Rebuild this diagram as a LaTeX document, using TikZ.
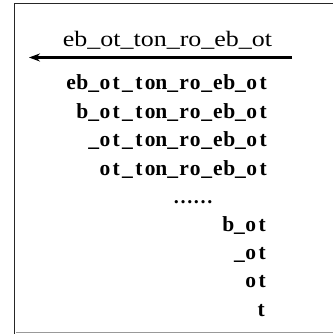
\documentclass[tikz,border=0pt]{standalone}
\usepackage{fontspec}
\setmainfont{Liberation Serif}
\usetikzlibrary{arrows.meta}
\makeatletter
\def\monoline#1{\monoaux#1\relax}
\def\monoaux#1{\ifx#1\relax\else\makebox[11.3pt]{#1}\expandafter\monoaux\fi}
\makeatother
\tikzset{
  frameline/.style={draw=black!85, line width=1.8pt},
  frameshade/.style={draw=black!40, line width=1.2pt},
  header/.style={anchor=base, inner sep=0pt, font=\fontsize{22}{22}\selectfont},
  row/.style={anchor=base east, inner sep=0pt, font=\bfseries\fontsize{21.5}{21.5}\selectfont},
  dots/.style={anchor=base, inner sep=0pt, font=\bfseries\fontsize{20}{20}\selectfont},
  bigarrow/.style={line width=2.4pt, -{Stealth[length=11pt,width=8pt]}}
}
\begin{document}
\begin{tikzpicture}[x=1pt,y=-1pt]
\useasboundingbox (0,0) rectangle (333,334);
\fill[white] (0,0) rectangle (333,334);
% frame
\draw[frameline] (14.5,334) -- (14.5,3.5) -- (333,3.5);
\draw[frameshade] (16,332.5) -- (333,332.5);
% header and arrow
\node[header] (head) at (167.5,46.5) {\scalebox{1.18}[1]{eb\_ot\_ton\_ro\_eb\_ot}};
\coordinate (aR) at (292,57.5);
\coordinate (aL) at (29,57.5);
\draw[bigarrow] (aR) -- (aL);
% suffix rows
\node[row] (r1) at (269,90)    {\monoline{eb\_ot\_ton\_ro\_eb\_ot}};
\node[row] (r2) at (269,118.3) {\monoline{b\_ot\_ton\_ro\_eb\_ot}};
\node[row] (r3) at (269,146.7) {\monoline{\_ot\_ton\_ro\_eb\_ot}};
\node[row] (r4) at (269,175)   {\monoline{ot\_ton\_ro\_eb\_ot}};
\node[dots] (r5) at (193,203)  {……};
\node[row] (r6) at (268,231.5) {\monoline{b\_ot}};
\node[row] (r7) at (268,259.7) {\monoline{\_ot}};
\node[row] (r8) at (268,287.9) {\monoline{ot}};
\node[row] (r9) at (267,316)   {\monoline{t}};
\end{tikzpicture}
\end{document}
